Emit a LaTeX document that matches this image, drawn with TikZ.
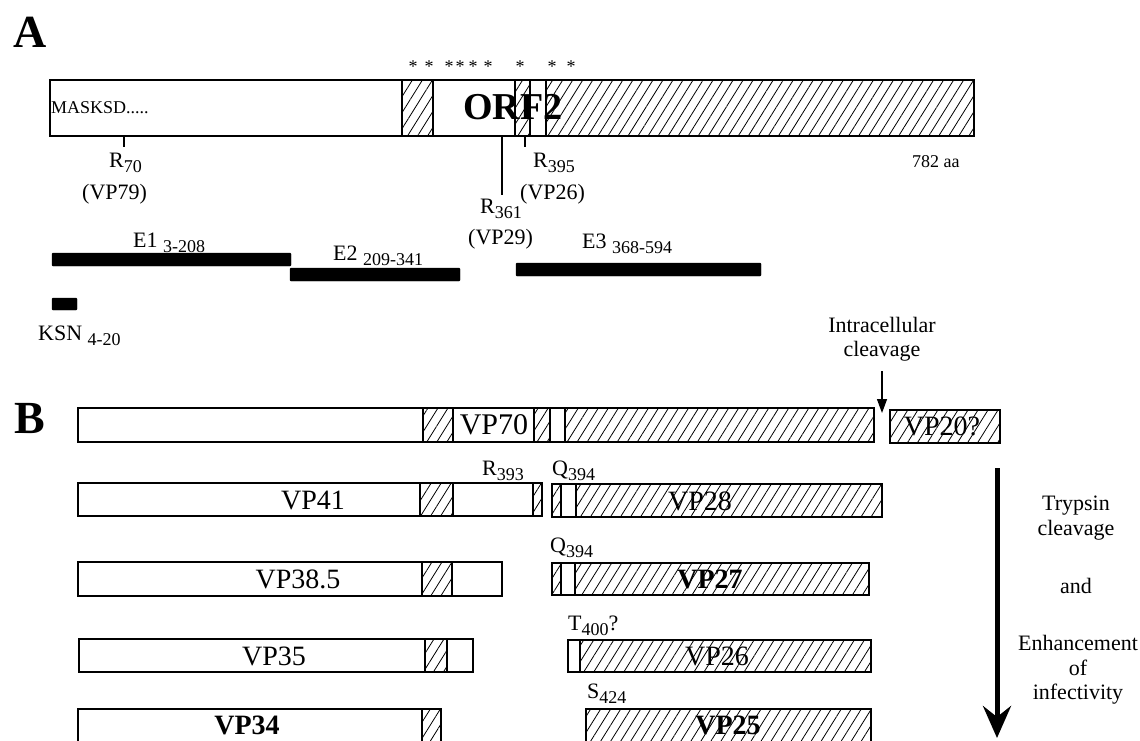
\documentclass[tikz,border=0pt]{standalone}
\usepackage{fontspec}
\setmainfont{Liberation Serif}
\usetikzlibrary{positioning,arrows.meta,patterns.meta}
\newcommand{\subsc}[1]{\raisebox{-5pt}{\fontsize{18}{20}\selectfont #1}}

\begin{document}
\begin{tikzpicture}[
  x=1pt, y=-1pt,
  every node/.style={inner sep=0pt, font=\fontsize{22}{24.5}\selectfont},
  seg/.style={draw, line width=1.6pt, fill=white},
  hseg/.style={draw, line width=1.6pt,
    pattern={Lines[angle=58, distance=8.5pt, line width=0.8pt]}},
  ebar/.style={fill=black, rounded corners=1pt},
  lbl/.style={anchor=base west},
  small/.style={font=\fontsize{18}{20}\selectfont},
  vp/.style={font=\fontsize{28}{30}\selectfont},
  vpb/.style={font=\fontsize{28}{30}\selectfont\bfseries},
  panel/.style={font=\fontsize{46}{50}\selectfont\bfseries},
  tick/.style={line width=1.3pt},
  arr/.style={-{Triangle[length=14pt, width=10pt]}, line width=1.3pt},
  bigarr/.style={-{Stealth[length=32pt, width=28pt, inset=11pt]}, line width=5pt}
]
\useasboundingbox (0,0) rectangle (1140,740);
\clip (0,0) rectangle (1140,740);

%% Panel A : ORF2
\node[panel] (pA) at (30,32) {A};

\foreach \sx in {413,429,449,460,473,488,520,552,571}
  \node[font=\fontsize{18}{20}\selectfont] (st\sx) at (\sx,67) {*};

\draw[seg]  (50,80)  rectangle (974,136);
\draw[hseg] (402,80) rectangle (433,136);
\draw[hseg] (515,80) rectangle (530,136);
\draw[hseg] (546,80) rectangle (974,136);

\node[small, anchor=west] (seq) at (51,108) {MASKSD.....};
\node[font=\fontsize{38}{40}\selectfont\bfseries] (orf) at (513,107) {ORF2};
\node[small, lbl] (len) at (912,167) {782 aa};

%% Sites de clivage
\coordinate (c70a)  at (124,136);
\coordinate (c70b)  at (124,147);
\coordinate (c361a) at (502,136);
\coordinate (c361b) at (502,195);
\coordinate (c395a) at (525,136);
\coordinate (c395b) at (525,147);
\draw[tick] (c70a)  -- (c70b);
\draw[tick] (c361a) -- (c361b);
\draw[tick] (c395a) -- (c395b);

\node[lbl] (r70)  at (109,167) {R\subsc{70}};
\node[lbl] (v79)  at (82,199)  {(VP79)};
\node[lbl] (r395) at (533,167) {R\subsc{395}};
\node[lbl] (v26)  at (520,199) {(VP26)};
\node[lbl] (r361) at (480,213) {R\subsc{361}};
\node[lbl] (v29)  at (468,244) {(VP29)};

%% Fragments exprimés
\node[lbl] (e1) at (133,247) {E1 \subsc{3-208}};
\draw[ebar] (52,253) rectangle (291,266);
\node[lbl] (e2) at (333,260) {E2 \subsc{209-341}};
\draw[ebar] (290,268) rectangle (460,281);
\node[lbl] (e3) at (582,248) {E3 \subsc{368-594}};
\draw[ebar] (516,263) rectangle (761,276);
\draw[ebar] (52,298) rectangle (77,310);
\node[lbl] (ksn) at (38,340) {KSN \subsc{4-20}};

%% Panel B : produits de clivage
\node[panel] (pB) at (30,418) {B};

\node[align=center] (icl) at (882,339) {Intracellular\\cleavage};
\coordinate (cut) at (882,413);
\draw[arr] ([yshift=-10pt]icl.south) -- (cut);

%% VP70 / VP20?
\draw[seg]  (78,408)  rectangle (874,442);
\draw[hseg] (423,408) rectangle (453,442);
\draw[hseg] (534,408) rectangle (550,442);
\draw[hseg] (565,408) rectangle (874,442);
\node[font=\fontsize{30}{32}\selectfont] (vp70) at (494,425) {VP70};
\draw[hseg] (890,410) rectangle (1000,443);
\node[vp] (vp20) at (942,426) {VP20?};

%% VP41 / VP28
\draw[seg]  (78,483)  rectangle (542,516);
\draw[hseg] (420,483) rectangle (453,516);
\draw[hseg] (533,483) rectangle (542,516);
\node[vp] (vp41) at (313,500) {VP41};
\draw[seg]  (552,484) rectangle (882,517);
\draw[hseg] (552,484) rectangle (561,517);
\draw[hseg] (576,484) rectangle (882,517);
\node[vp] (vp28) at (700,501) {VP28};
\node[lbl] (r393) at (482,475) {R\subsc{393}};
\node[lbl] (q394a) at (552,475) {Q\subsc{394}};

%% VP38.5 / VP27
\draw[seg]  (78,562)  rectangle (502,596);
\draw[hseg] (422,562) rectangle (452,596);
\node[vp] (vp385) at (298,579) {VP38.5};
\draw[seg]  (552,563) rectangle (869,595);
\draw[hseg] (552,563) rectangle (561,595);
\draw[hseg] (575,563) rectangle (869,595);
\node[vpb] (vp27) at (710,579) {VP27};
\node[lbl] (q394b) at (550,552) {Q\subsc{394}};

%% VP35 / VP26
\draw[seg]  (79,639)  rectangle (473,672);
\draw[hseg] (425,639) rectangle (447,672);
\node[vp] (vp35) at (274,656) {VP35};
\draw[seg]  (568,640) rectangle (871,672);
\draw[hseg] (580,640) rectangle (871,672);
\node[vp] (vp26) at (717,656) {VP26};
\node[lbl] (t400) at (568,630) {T\subsc{400}?};

%% VP34 / VP25
\draw[seg]  (78,709)  rectangle (441,750);
\draw[hseg] (422,709) rectangle (441,750);
\node[vpb] (vp34) at (247,725) {VP34};
\draw[hseg] (586,709) rectangle (871,750);
\node[vpb] (vp25) at (728,725) {VP25};
\node[lbl] (s424) at (587,698) {S\subsc{424}};

%% Trypsine
\coordinate (trtop) at (997,468);
\coordinate (trbot) at (997,738);
\draw[bigarr] (trtop) -- (trbot);
\node[align=center] (tryp) at (1076,518) {Trypsin\\cleavage};
\node (and) at (1076,586) {and};
\node[align=center] (enh) at (1078,670) {Enhancement\\of\\infectivity};

\end{tikzpicture}
\end{document}
